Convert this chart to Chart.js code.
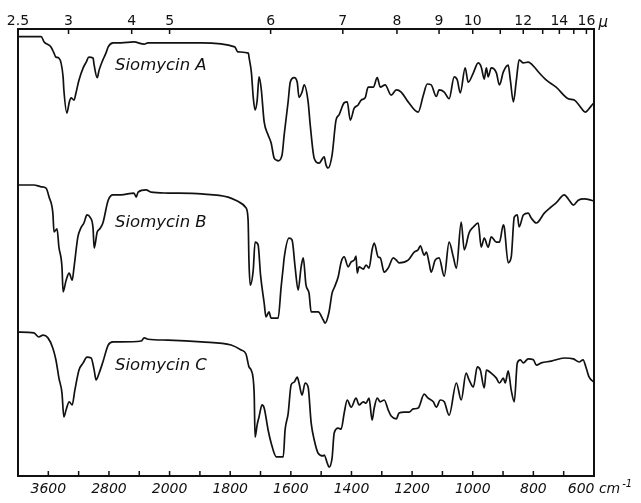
<!DOCTYPE html>
<html>
<head>
<meta charset="utf-8">
<script src="https://cdn.jsdelivr.net/npm/chart.js@4.4.0/dist/chart.umd.min.js"></script>
<style>
html, body { margin: 0; padding: 0; background: #fff; }
</style>
</head>
<body>
<canvas id="irChart" width="641" height="503"></canvas>
<script>
// Siomycin A
var wnA = [4000,3695,3655,3565,3525,3500,3460,3405,3395,3355,3325,3300,3260,3235,3195,3140,3100,3065,3010,2995,2955,2930,2880,2840,2810,2745,2640,2470,2335,2285,2020,1895,1785,1775,1740,1738,1730,1724,1718,1711,1705,1698,1688,1675,1665,1655,1648,1642,1629,1622,1609,1602,1589,1579,1573,1563,1556,1543,1536,1523,1507,1490,1484,1477,1464,1451,1441,1424,1414,1404,1391,1378,1368,1355,1345,1328,1315,1305,1289,1269,1252,1236,1213,1180,1163,1150,1137,1120,1111,1094,1078,1061,1051,1041,1025,1015,998,982,972,962,955,949,939,922,912,899,883,876,866,856,847,833,817,797,781,758,725,685,665,642,629,609,600];
var valA = [98.3,98.3,97.1,96.0,94.6,93.7,93.5,89.3,86.4,81.2,83.5,84.6,84.1,85.7,88.6,91.3,92.6,93.7,93.5,91.9,89.1,90.8,93.1,94.6,96.0,96.9,96.9,97.1,96.6,96.9,96.9,96.9,96.0,94.9,94.6,93.7,90.2,84.7,81.9,84.1,89.3,86.8,79.2,76.3,74.5,71.1,70.7,70.5,71.8,76.3,83.7,88.1,89.1,88.1,84.7,85.9,87.5,83.7,78.5,71.1,70.0,71.4,69.6,68.9,71.8,79.6,80.8,83.5,83.7,79.6,82.3,83.0,84.1,84.6,87.0,87.0,89.1,87.0,87.5,85.2,86.4,85.9,83.7,81.4,85.2,87.7,87.5,84.9,86.4,85.9,84.4,89.3,88.6,85.7,91.3,88.1,90.2,92.4,91.5,88.8,91.3,89.3,91.3,90.2,87.5,90.4,91.9,88.6,83.7,88.6,93.1,92.4,92.6,91.5,90.2,88.6,87.0,84.4,84.1,82.3,81.4,82.8,83.5];

// Siomycin B
var wnB = [4000,3790,3695,3630,3590,3540,3525,3485,3460,3420,3405,3365,3325,3285,3260,3210,3170,3130,3090,3050,3010,2995,2955,2920,2880,2810,2745,2640,2470,2440,2415,2310,2245,2020,1895,1807,1771,1748,1741,1738,1734,1724,1718,1708,1700,1688,1682,1672,1665,1642,1632,1625,1622,1606,1596,1586,1576,1566,1559,1550,1540,1533,1510,1493,1487,1474,1464,1457,1444,1434,1424,1411,1401,1391,1385,1381,1375,1361,1352,1342,1332,1325,1312,1305,1292,1279,1262,1252,1243,1213,1193,1180,1173,1160,1153,1144,1137,1124,1111,1094,1078,1064,1054,1038,1028,1012,998,982,972,962,949,939,922,912,899,896,883,873,863,853,847,833,817,807,790,764,741,725,698,682,668,652,632,609,600];
var valB = [65.1,65.1,64.7,64.4,62.4,58.8,54.6,55.3,51.2,46.8,41.2,43.8,45.4,43.8,46.8,53.5,55.5,56.6,58.4,57.9,55.5,51.0,54.6,55.3,56.6,61.7,62.9,62.9,63.3,62.4,63.5,64.0,63.5,63.3,63.1,62.4,61.3,60.0,57.3,47.7,42.7,46.1,52.3,51.7,45.0,38.7,35.6,36.7,35.3,35.3,42.3,46.8,48.8,53.2,52.8,46.8,41.6,46.8,48.8,42.7,40.9,36.7,36.7,34.9,34.2,36.7,40.9,42.1,44.5,47.9,49.0,46.8,47.9,48.3,49.2,45.4,46.8,46.3,47.2,46.5,50.6,52.1,49.0,48.8,45.6,46.5,48.8,48.3,47.7,48.3,50.1,50.6,51.5,49.4,50.1,47.7,45.6,48.3,48.8,44.7,52.3,49.0,46.5,56.8,50.6,54.4,55.7,56.6,51.2,53.2,51.2,53.5,52.3,52.3,56.2,55.7,47.7,49.0,57.9,58.4,55.7,58.4,58.8,57.7,56.6,58.8,60.2,61.1,62.9,61.7,60.6,61.7,62.0,61.7,61.5];

// Siomycin C
var wnC = [4000,3790,3725,3670,3605,3540,3500,3460,3420,3395,3365,3325,3285,3250,3195,3140,3090,3035,2995,2970,2930,2880,2810,2745,2640,2375,2335,2285,2020,1895,1797,1764,1748,1738,1731,1721,1718,1711,1705,1695,1688,1675,1665,1648,1625,1619,1609,1599,1589,1579,1573,1563,1553,1543,1533,1523,1510,1493,1490,1480,1474,1464,1457,1444,1434,1424,1414,1401,1385,1375,1361,1352,1342,1332,1325,1315,1305,1292,1279,1269,1252,1243,1226,1210,1196,1180,1160,1147,1130,1120,1107,1094,1078,1054,1038,1022,1012,998,985,975,962,955,939,922,912,899,893,883,873,863,853,843,833,817,800,790,774,741,698,668,649,636,626,616,600];
var valC = [32.2,32.0,31.1,31.5,30.9,28.6,26.0,21.9,18.6,13.2,14.8,16.6,15.9,19.2,23.7,25.3,26.6,26.4,23.7,21.5,23.0,25.5,29.3,30.0,30.0,30.2,30.9,30.6,30.4,30.0,29.3,28.2,27.3,24.4,23.7,18.6,8.7,11.5,13.2,15.9,15.2,10.3,7.4,4.3,4.3,10.3,13.9,20.4,21.0,22.1,20.8,18.1,20.8,19.9,11.9,8.1,5.1,4.5,4.7,2.9,2.0,4.0,9.6,10.7,10.5,14.1,17.0,15.4,17.4,15.9,16.6,16.3,17.4,12.5,15.2,17.4,16.6,17.0,14.8,13.4,12.8,14.1,14.3,14.3,15.0,15.2,18.3,17.4,16.6,15.4,17.0,16.6,13.6,20.8,17.0,23.0,21.5,19.9,24.4,23.7,19.7,23.7,23.0,21.9,20.8,21.9,20.8,23.5,19.2,16.6,25.3,26.0,25.3,26.2,26.0,24.8,25.3,25.7,26.4,26.2,25.5,26.0,24.2,22.1,21.0];

var seriesNames = ['Siomycin A', 'Siomycin B', 'Siomycin C'];

// wavenumber ticks (bottom) and wavelength ticks in microns (top)
var cmTicks = [3600,3200,2800,2400,2000,1900,1800,1700,1600,1500,1400,1300,1200,1100,1000,900,800,700,600];
var cmLabels = ['3600','','2800','','2000','','1800','','1600','','1400','','1200','','1000','','800','','600 cm'];
var umTicks = [2.5,3,4,5,6,7,8,9,10,11,12,13,14,15,16];
var umLabels = ['2.5','3','4','5','6','7','8','9','10','','12','','14','','16'];

// the spectrometer changes scale at 2000 cm-1
function cmToAxis(w) {
    return w >= 2000 ? (4000 - w) / 400 : 5 + (2000 - w) / 100;
}

function points(wn, vals) {
    return wn.map(function (w, i) { return { x: cmToAxis(w), y: vals[i] }; });
}

var frameAndNotes = {
    id: 'frameAndNotes',
    beforeDraw: function (chart) {
        var ctx = chart.ctx;
        ctx.save();
        ctx.fillStyle = '#fff';
        ctx.fillRect(0, 0, chart.width, chart.height);
        ctx.restore();
    },
    afterDraw: function (chart) {
        var ctx = chart.ctx, a = chart.chartArea;
        var xs = chart.scales.x, xt = chart.scales.x2, ys = chart.scales.y;
        ctx.save();
        ctx.strokeStyle = '#111';
        ctx.lineWidth = 2;
        ctx.strokeRect(a.left, a.top, a.right - a.left, a.bottom - a.top);
        ctx.lineWidth = 1.5;
        ctx.beginPath();
        xs.ticks.forEach(function (t) {
            var p = xs.getPixelForValue(t.value);
            ctx.moveTo(p, a.bottom);
            ctx.lineTo(p, a.bottom - 5);
        });
        xt.ticks.forEach(function (t) {
            var p = xt.getPixelForValue(t.value);
            ctx.moveTo(p, a.top);
            ctx.lineTo(p, a.top + 5);
        });
        ctx.stroke();

        // curve names
        ctx.fillStyle = '#111';
        ctx.font = 'italic 16.5px "DejaVu Sans"';
        ctx.textAlign = 'left';
        ctx.textBaseline = 'middle';
        var nameY = [91.7, 56.6, 24.6];
        seriesNames.forEach(function (n, i) {
            ctx.fillText(n, xs.getPixelForValue(cmToAxis(2720)), ys.getPixelForValue(nameY[i]));
        });

        // units
        ctx.font = 'italic 14px "DejaVu Sans"';
        var lastX = xs.getPixelForValue(cmToAxis(600));
        var halfW = ctx.measureText('600 cm').width / 2;
        ctx.font = 'italic 10px "DejaVu Sans"';
        ctx.fillText('-1', lastX + halfW + 2, a.bottom + 8);
        ctx.font = 'italic 15px "DejaVu Sans"';
        ctx.fillText('\u00b5', xt.getPixelForValue(cmToAxis(10000 / 16)) + 12, 23);
        ctx.restore();
    }
};

function lineSet(label, wn, vals) {
    return {
        label: label,
        data: points(wn, vals),
        borderColor: '#111',
        borderWidth: 1.7,
        pointRadius: 0,
        fill: false,
        cubicInterpolationMode: 'monotone'
    };
}

var ctx = document.getElementById('irChart').getContext('2d');
var irChart = new Chart(ctx, {
    type: 'line',
    data: {
        datasets: [
            lineSet(seriesNames[0], wnA, valA),
            lineSet(seriesNames[1], wnB, valB),
            lineSet(seriesNames[2], wnC, valC)
        ]
    },
    options: {
        responsive: false,
        animation: false,
        layout: { padding: { left: 18, right: 47, top: 0, bottom: 0 } },
        plugins: { legend: { display: false }, tooltip: { enabled: false } },
        scales: {
            x: {
                type: 'linear',
                position: 'bottom',
                min: 0,
                max: 19,
                grid: { display: false, drawTicks: false },
                border: { display: false },
                afterBuildTicks: function (s) {
                    s.ticks = cmTicks.map(function (w) { return { value: cmToAxis(w) }; });
                },
                afterFit: function (s) { s.height = 27; },
                ticks: {
                    autoSkip: false,
                    maxRotation: 0,
                    padding: 5,
                    color: '#111',
                    font: { family: '"DejaVu Sans"', size: 14, style: 'italic' },
                    callback: function (v, i) { return cmLabels[i]; }
                }
            },
            x2: {
                type: 'linear',
                position: 'top',
                min: 0,
                max: 19,
                grid: { display: false, drawTicks: false },
                border: { display: false },
                afterBuildTicks: function (s) {
                    s.ticks = umTicks.map(function (m) { return { value: cmToAxis(10000 / m) }; });
                },
                afterFit: function (s) { s.height = 29; },
                ticks: {
                    autoSkip: false,
                    maxRotation: 0,
                    padding: -1,
                    color: '#111',
                    font: { family: '"DejaVu Sans"', size: 14 },
                    callback: function (v, i) { return umLabels[i]; }
                }
            },
            y: { display: false, min: 0, max: 100 }
        }
    },
    plugins: [frameAndNotes]
});
</script>
</body>
</html>
